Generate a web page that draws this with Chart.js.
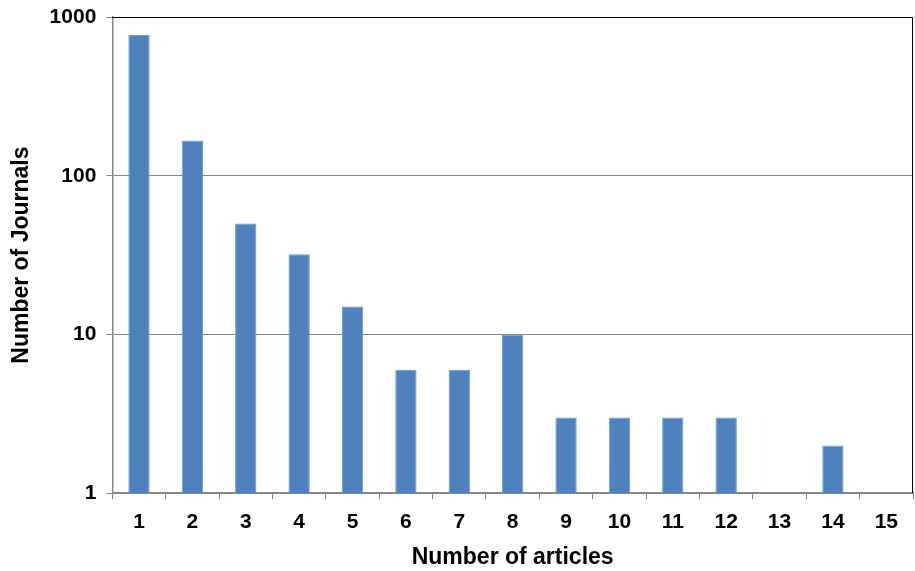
<!DOCTYPE html>
<html>
<head>
<meta charset="utf-8">
<script src="https://cdn.jsdelivr.net/npm/chart.js@4"></script>
<style>
	html, body { margin: 0; padding: 0; background: #fff; }
	#wrap { width: 915px; height: 571px; }
</style>
</head>
<body>
<div id="wrap"><canvas id="chart"></canvas></div>
<script>
const articles = ['1', '2', '3', '4', '5', '6', '7', '8', '9', '10', '11', '12', '13', '14', '15'];
const journals = [770, 167, 50, 32, 15, 6, 6, 10, 3, 3, 3, 3, 1, 2, 1];
const yTicks = [1, 10, 100, 1000];

// black frame on top and right of the plot area, like the spreadsheet original
const frame = {
	id: 'frame',
	afterDraw(chart) {
		const { ctx, chartArea: a } = chart;
		ctx.save();
		ctx.strokeStyle = '#000';
		ctx.lineWidth = 1;
		ctx.beginPath();
		ctx.moveTo(a.left, a.top + 0.5);
		ctx.lineTo(a.right - 0.5, a.top + 0.5);
		ctx.lineTo(a.right - 0.5, a.bottom);
		ctx.stroke();
		ctx.restore();
	}
};

const boldFont = size => ({ family: 'Liberation Sans', weight: 'bold', size: size });

new Chart(document.getElementById('chart'), {
	type: 'bar',
	data: {
		labels: articles,
		datasets: [{
			data: journals,
			backgroundColor: '#4F81BD',
			borderColor: '#6E9AD0',
			borderWidth: 1,
			barPercentage: 0.4,
			categoryPercentage: 1
		}]
	},
	options: {
		responsive: true,
		maintainAspectRatio: false,
		animation: false,
		layout: { padding: { top: 17, right: 2, left: 8, bottom: 0 } },
		plugins: {
			legend: { display: false },
			tooltip: { enabled: false }
		},
		scales: {
			x: {
				afterFit(scale) {
					scale.height -= 2;
				},
				grid: {
					offset: true,
					drawOnChartArea: false,
					tickLength: 6,
					color: '#868686'
				},
				border: { color: '#868686', width: 1.5 },
				ticks: {
					color: '#000',
					padding: 10,
					font: boldFont(21)
				},
				title: {
					display: true,
					text: 'Number of articles',
					color: '#000',
					padding: { top: 1, bottom: 0 },
					font: boldFont(23)
				}
			},
			y: {
				type: 'logarithmic',
				min: 1,
				max: 1000,
				afterBuildTicks(scale) {
					scale.ticks = yTicks.map(v => ({ value: v }));
				},
				afterFit(scale) {
					// let the top label hang above the plot, as in the original
					scale.paddingTop = 0;
				},
				grid: {
					color: '#868686',
					tickLength: 6
				},
				border: { color: '#868686', width: 1.5 },
				ticks: {
					color: '#000',
					padding: 10,
					callback: v => String(v),
					font: boldFont(21)
				},
				title: {
					display: true,
					text: 'Number of Journals',
					color: '#000',
					padding: { top: 0, bottom: 4 },
					font: boldFont(23)
				}
			}
		}
	},
	plugins: [frame]
});
</script>
</body>
</html>
